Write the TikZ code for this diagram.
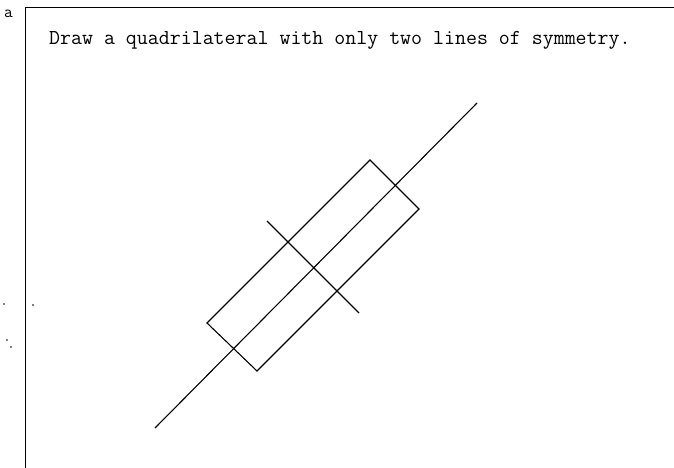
\documentclass[tikz,border=0pt]{standalone}
\usepackage{fontspec}
\begin{document}
\begin{tikzpicture}[x=1pt,y=-1pt,
  ink/.style={line width=1.1pt,black},
  frame/.style={line width=0.9pt,black},
  typed/.style={font=\ttfamily\fontsize{21.3}{23}\selectfont,anchor=base west,inner sep=0pt},
  speck/.style={fill=black,inner sep=0pt,minimum size=1.6pt,circle}]
\useasboundingbox (0,0) rectangle (674,468);
% frame
\coordinate (ftl) at (25,7);
\coordinate (ftr) at (674,7);
\coordinate (fbl) at (25,468);
\draw[frame] (ftr) -- (ftl) -- (fbl);
\node[font=\ttfamily\fontsize{17}{19}\selectfont,anchor=base west,inner sep=0pt] (lab) at (4,18) {a};
% question
\node[typed] (q) at (49,45) {Draw a quadrilateral with only two lines of symmetry.};
% rectangle
\coordinate (rt) at (370,160);
\coordinate (rr) at (419,209);
\coordinate (rb) at (257,371);
\coordinate (rl) at (207,323);
\draw[ink,line join=miter] (rt) -- (rr) -- (rb) -- (rl) -- cycle;
% lines of symmetry
\coordinate (la) at (155,428);
\coordinate (lb) at (477,103);
\draw[ink] (la) -- (lb);
\coordinate (sa) at (267,221);
\coordinate (sb) at (359,313);
\draw[ink] (sa) -- (sb);
% specks
\node[speck] (d1) at (4,304) {};
\node[speck] (d2) at (33,305) {};
\node[speck] (d3) at (7,340) {};
\node[speck] (d4) at (11,347) {};
\end{tikzpicture}
\end{document}
